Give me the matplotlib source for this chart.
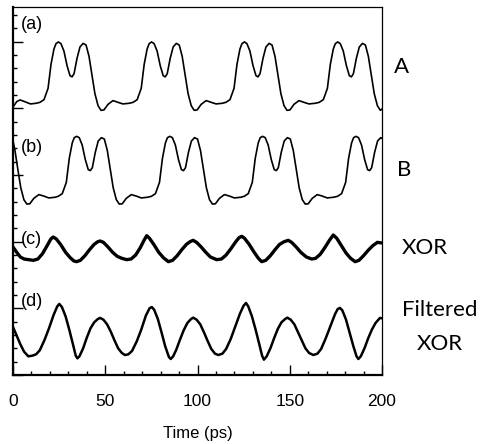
import matplotlib
matplotlib.use('Agg')
import matplotlib.pyplot as plt
from matplotlib.ticker import MultipleLocator

# trace (a): input A
a_t = [0.0, 2.0, 3.8, 6.0, 9.5, 12.5, 14.6, 16.8, 19.0, 20.6, 22.2, 23.3, 24.6, 26.0, 27.6, 29.3,
       30.9, 32.0, 33.1, 34.7, 36.3, 38.0, 39.6, 41.2, 42.8, 44.4, 46.1, 47.7, 49.3, 51.5, 54.2,
       56.9, 59.6, 63.0,
       65.1, 67.3, 69.5, 71.1, 72.7, 73.8, 75.1, 76.5, 78.1, 79.8, 81.4, 82.5, 83.6, 85.2, 86.8,
       88.5, 90.1, 91.7, 93.3, 94.9, 96.6, 98.2, 99.8, 102.0, 104.7, 107.4, 110.1, 113.5,
       115.4, 117.6, 119.8, 121.4, 123.0, 124.1, 125.4, 126.8, 128.4, 130.1, 131.7, 132.8, 133.9,
       135.5, 137.1, 138.8, 140.4, 142.0, 143.6, 145.2, 146.9, 148.5, 150.1, 152.3, 155.0, 157.7,
       160.4, 163.8,
       166.0, 168.2, 170.4, 172.0, 173.6, 174.7, 176.0, 177.4, 179.0, 180.7, 182.3, 183.4, 184.5,
       186.1, 187.7, 189.4, 191.0, 192.6, 194.2, 195.8, 197.5, 199.1, 200.0]
a_y = [20.10, 20.50, 20.63, 20.52, 20.33, 20.38,
       20.45, 20.65, 21.50, 23.30, 24.45, 24.85, 24.98, 24.85, 24.30, 23.20, 22.45, 22.36, 22.60, 23.75,
       24.60, 24.87, 24.75, 23.90, 22.50, 21.10, 20.20, 19.85, 19.88, 20.30, 20.58, 20.45, 20.33, 20.38,
       20.45, 20.65, 21.50, 23.30, 24.45, 24.85, 24.98, 24.85, 24.30, 23.20, 22.45, 22.36, 22.60, 23.75,
       24.60, 24.87, 24.75, 23.90, 22.50, 21.10, 20.20, 19.85, 19.88, 20.30, 20.58, 20.45, 20.33, 20.38,
       20.45, 20.65, 21.50, 23.30, 24.45, 24.85, 24.98, 24.85, 24.30, 23.20, 22.45, 22.36, 22.60, 23.75,
       24.60, 24.87, 24.75, 23.90, 22.50, 21.10, 20.20, 19.85, 19.88, 20.30, 20.58, 20.45, 20.33, 20.38,
       20.45, 20.65, 21.50, 23.30, 24.45, 24.85, 24.98, 24.85, 24.30, 23.20, 22.45, 22.36, 22.60, 23.75,
       24.60, 24.87, 24.75, 23.90, 22.50, 21.10, 20.20, 19.85, 19.95]

# trace (b): input B
b_t = [0.0, 1.0, 2.6, 4.2, 5.9, 7.5, 9.1, 11.3, 14.0, 16.7, 19.4, 22.8,
       24.5, 26.7, 28.9, 30.5, 32.1, 33.2, 34.5, 35.9, 37.5, 39.2, 40.8, 41.9, 43.0, 44.6, 46.2,
       47.9, 49.5, 51.1, 52.7, 54.3, 56.0, 57.6, 59.2, 61.4, 64.1, 66.8, 69.5, 72.9,
       75.0, 77.2, 79.4, 81.0, 82.6, 83.7, 85.0, 86.4, 88.0, 89.7, 91.3, 92.4, 93.5, 95.1, 96.7,
       98.4, 100.0, 101.6, 103.2, 104.8, 106.5, 108.1, 109.7, 111.9, 114.6, 117.3, 120.0, 123.4,
       125.3, 127.5, 129.7, 131.3, 132.9, 134.0, 135.3, 136.7, 138.3, 140.0, 141.6, 142.7, 143.8,
       145.4, 147.0, 148.7, 150.3, 151.9, 153.5, 155.1, 156.8, 158.4, 160.0, 162.2, 164.9, 167.6,
       170.3, 173.7,
       175.9, 178.1, 180.3, 181.9, 183.5, 184.6, 185.9, 187.3, 188.9, 190.6, 192.2, 193.3, 194.4,
       196.0, 197.6, 199.3, 200.0]
b_y = [17.55, 16.90, 15.45, 14.05, 13.15, 12.82, 12.84, 13.25, 13.53, 13.42, 13.28, 13.33,
       13.40, 13.60, 14.45, 16.25, 17.40, 17.80, 17.90, 17.80, 17.25, 16.15, 15.40, 15.33, 15.55, 16.70,
       17.55, 17.80, 17.70, 16.85, 15.45, 14.05, 13.15, 12.82, 12.84, 13.25, 13.53, 13.42, 13.28, 13.33,
       13.40, 13.60, 14.45, 16.25, 17.40, 17.80, 17.90, 17.80, 17.25, 16.15, 15.40, 15.33, 15.55, 16.70,
       17.55, 17.80, 17.70, 16.85, 15.45, 14.05, 13.15, 12.82, 12.84, 13.25, 13.53, 13.42, 13.28, 13.33,
       13.40, 13.60, 14.45, 16.25, 17.40, 17.80, 17.90, 17.80, 17.25, 16.15, 15.40, 15.33, 15.55, 16.70,
       17.55, 17.80, 17.70, 16.85, 15.45, 14.05, 13.15, 12.82, 12.84, 13.25, 13.53, 13.42, 13.28, 13.33,
       13.40, 13.60, 14.45, 16.25, 17.40, 17.80, 17.90, 17.80, 17.25, 16.15, 15.40, 15.33, 15.55, 16.70,
       17.55, 17.80, 17.75]

# trace (c): XOR output
c_t = [0, 2, 4, 6, 8.5, 11, 13.5, 16, 18.5, 20.5, 21.8, 23.5, 26, 28.5, 31, 33, 34.5, 36.5, 39,
       41.5, 44, 46, 47.2, 49, 51.5, 54, 56.5, 59, 61.6, 64, 66.5, 69, 71, 72.5, 74, 76.5, 79,
       81.5, 84.2, 86.5, 89, 91.5, 94, 96, 97.6, 99.5, 102, 104.5, 107, 110.4, 113, 115.5, 118,
       120.5, 122.5, 124, 125.5, 128, 130.5, 133, 134.8, 137, 139.5, 142, 144.5, 147, 149.2, 151,
       153.5, 156, 159, 161.9, 164, 166.5, 169, 171.5, 173.6, 175.5, 178, 180.5, 183, 185.4,
       187.5, 190, 192.5, 195, 197.5, 200]
c_y = [9.60, 9.20, 8.85, 8.70, 8.65, 8.60, 8.70, 9.10, 9.70, 10.20, 10.35, 10.20, 9.75, 9.20, 8.80,
       8.55, 8.50, 8.60, 8.95, 9.40, 9.80, 10.00, 10.05, 9.95, 9.60, 9.20, 8.90, 8.75, 8.65, 8.70,
       9.00, 9.55, 10.10, 10.45, 10.25, 9.75, 9.20, 8.80, 8.50, 8.60, 8.95, 9.40, 9.80, 10.00,
       10.10, 9.95, 9.60, 9.20, 8.85, 8.65, 8.70, 9.00, 9.45, 9.95, 10.30, 10.40, 10.25, 9.80,
       9.25, 8.75, 8.50, 8.60, 8.95, 9.40, 9.80, 10.00, 10.10, 9.95, 9.60, 9.20, 8.85, 8.70,
       8.75, 9.05, 9.55, 10.10, 10.50, 10.25, 9.70, 9.15, 8.75, 8.50, 8.60, 8.95, 9.35, 9.70,
       9.95, 9.90]

# trace (d): filtered XOR output
d_t = [0, 2, 4, 6, 8.3, 10.5, 12.5, 14.5, 17, 19.5, 22, 24, 25.1, 26.5, 28.5, 30.5, 32.5, 34,
       34.9, 36, 38, 40, 42, 44, 46, 47.2, 49, 51, 53, 55, 57, 59, 60.7, 62.5, 64.5, 67, 69.5,
       72, 74, 75.2, 76.5, 78.5, 80.5, 82.5, 84.5, 85.5, 86.8, 88.5, 90.5, 92.5, 94.5, 96.5,
       97.7, 99.5, 101.5, 103.5, 105.5, 107.5, 109.5, 111.3, 113.5, 115.5, 118, 120.5, 123, 125,
       126.3, 127.5, 129.5, 131.5, 133.5, 135, 136, 137.5, 139.5, 141.5, 143.5, 145.5, 147.5,
       148.7, 150.5, 152.5, 154.5, 156.5, 158.5, 160.5, 162.8, 165, 167, 169.5, 172, 174.5, 176,
       177.2, 178.5, 180.5, 182.5, 184.5, 186.2, 187.2, 188.5, 190.5, 192.5, 194.5, 196.5,
       198.9, 200]
d_y = [3.60, 2.95, 2.30, 1.75, 1.40, 1.45, 1.55, 1.85, 2.60, 3.50, 4.50, 5.15, 5.33, 5.10, 4.40,
       3.40, 2.30, 1.45, 1.25, 1.40, 2.00, 2.80, 3.50, 3.95, 4.20, 4.28, 4.15, 3.80, 3.25, 2.60,
       2.00, 1.65, 1.50, 1.55, 1.80, 2.50, 3.40, 4.45, 5.00, 5.10, 4.90, 4.20, 3.20, 2.15, 1.35,
       1.20, 1.40, 1.90, 2.65, 3.35, 3.90, 4.20, 4.30, 4.15, 3.80, 3.20, 2.55, 1.95, 1.60, 1.50,
       1.60, 1.95, 2.70, 3.65, 4.60, 5.20, 5.40, 5.15, 4.40, 3.40, 2.30, 1.45, 1.15, 1.40, 2.00,
       2.75, 3.45, 3.95, 4.20, 4.30, 4.15, 3.80, 3.20, 2.60, 2.00, 1.65, 1.50, 1.60, 1.95, 2.75,
       3.65, 4.55, 4.95, 5.03, 4.85, 4.15, 3.15, 2.15, 1.40, 1.20, 1.40, 2.00, 2.75, 3.40, 3.90,
       4.28, 4.25]

panel_labels = ['(a)', '(b)', '(c)', '(d)']
x_ticks = [0, 50, 100, 150, 200]

W, H = 482, 444
fig = plt.figure(figsize=(W / 100, H / 100), dpi=100)
ax = fig.add_axes([13 / W, 69 / H, 369 / W, 368 / H])

ax.plot(a_t, a_y, color='black', lw=1.2)
ax.plot(b_t, b_y, color='black', lw=1.2)
ax.plot(c_t, c_y, color='black', lw=2.4)
ax.plot(d_t, d_y, color='black', lw=1.8)

ax.set_xlim(0, 200)
ax.set_ylim(0, 27.6)
ax.set_xticks(x_ticks)
ax.xaxis.set_minor_locator(MultipleLocator(10))
ax.yaxis.set_major_locator(MultipleLocator(5))
ax.yaxis.set_minor_locator(MultipleLocator(1))
ax.tick_params(which='both', direction='in', top=False, right=False, width=1)
ax.tick_params(which='major', length=7)
ax.tick_params(which='minor', length=3)
ax.tick_params(axis='x', pad=14, labelsize=12.5)
ax.tick_params(axis='y', labelleft=False)
for lab in ax.get_xticklabels():
    lab.set_family('Liberation Sans')

ax.spines['left'].set_linewidth(1.6)
ax.spines['bottom'].set_linewidth(1.6)
ax.spines['top'].set_linewidth(0.9)
ax.spines['right'].set_linewidth(0.9)

ax.set_xlabel('Time (ps)', family='Liberation Sans', fontsize=12)
ax.xaxis.set_label_coords(0.5, -0.138)

for lab, yy in zip(panel_labels, [26.26, 17.03, 10.2, 5.48]):
    ax.text(4.4, yy, lab, family='Liberation Sans', fontsize=13, ha='left', va='center')

# right-hand labels
rfont = dict(family='Lato', fontsize=16, va='center', ha='center')
fig.text(401 / W, 1 - 67 / H, 'A', **rfont)
fig.text(404 / W, 1 - 170 / H, 'B', **rfont)
fig.text(425 / W, 1 - 248 / H, 'XOR', **rfont)
fig.text(440 / W, 1 - 310 / H, 'Filtered', **rfont)
fig.text(440 / W, 1 - 344 / H, 'XOR', **rfont)

fig.savefig('out.png', dpi=100)
